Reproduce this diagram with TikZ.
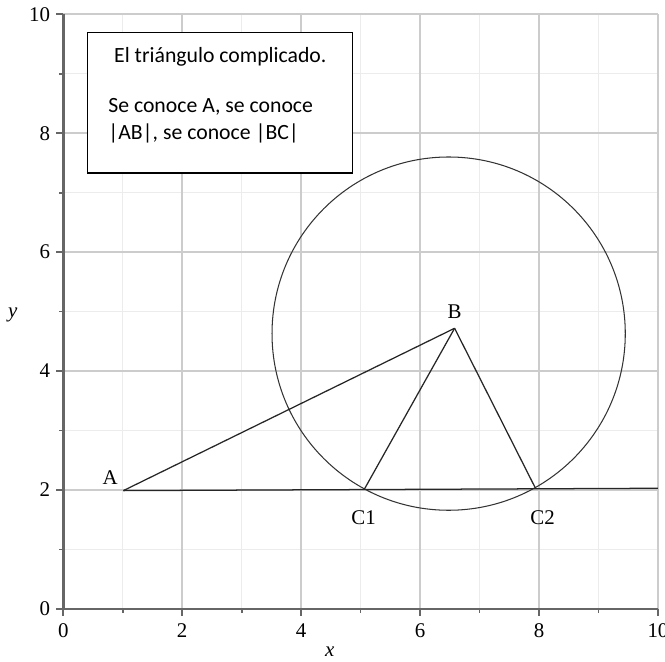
\documentclass[tikz,border=0pt]{standalone}
\usepackage{fontspec}
\setmainfont{Liberation Serif}
\newfontfamily\boxfont{Carlito}
\usetikzlibrary{arrows,arrows.meta}

\begin{document}
\begin{tikzpicture}[
lbl/.style={font=\fontsize{10}{12}\selectfont,inner sep=1pt},
ticklabel/.style={font=\fontsize{10}{12}\selectfont,inner sep=1pt},
boxtext/.style={font=\boxfont\fontsize{10.4}{12}\selectfont,anchor=base west,inner sep=0pt},
infobox/.style={draw=black,line width=0.6pt,fill=white,minimum width=4.45cm,minimum height=2.36cm,inner sep=0pt},
seg/.style={line width=0.6pt,draw=black!85},
axisline/.style={line width=1.2pt,draw=black!60},
majortick/.style={line width=0.8pt,draw=black!60},
majorgrid/.style={line width=0.8pt,draw=gray!40},
minorgrid/.style={line width=0.5pt,draw=gray!15} ]

\useasboundingbox (-1.064,-0.887) rectangle (10.118,10.24);

\draw[minorgrid,step=1] (0,0) grid (10,10);
\draw[majorgrid,step=2] (0,0) grid (10,10);

\foreach \k in {1,3,...,9} {
  \draw[majortick] (\k,0) -- (\k,-0.07);
  \draw[majortick] (0,\k) -- (-0.07,\k);
}
\foreach \k in {0,2,...,10} {
  \draw[majortick] (\k,0) -- (\k,-0.12);
  \draw[majortick] (0,\k) -- (-0.12,\k);
  \node[ticklabel,anchor=north] (xl\k) at (\k,-0.2) {\k};
  \node[ticklabel,anchor=east] (yl\k) at (-0.18,\k) {\k};
}

\draw[axisline] (0,0) -- (10,0);
\draw[axisline] (0,0) -- (0,10);

\node[ticklabel] (xlab) at (4.48,-0.72) {\textit{x}};
\node[ticklabel] (ylab) at (-0.85,4.94) {\textit{y}};

\coordinate (A) at (1.01,1.99);
\coordinate (B) at (6.58,4.72);
\coordinate (C1) at (5.06,2.01);
\coordinate (C2) at (7.94,2.03);
\coordinate (E) at (10,2.03);
\coordinate (O) at (6.48,4.63);

\draw[line width=0.5pt,draw=black!80] (O) circle (2.97);

\draw[seg] (A) -- (E);
\draw[seg] (A) -- (B);
\draw[seg] (B) -- (C1);
\draw[seg] (B) -- (C2);

\node[lbl] (Alab) at (0.79,2.21) {A};
\node[lbl] (Blab) at (6.58,5.0) {B};
\node[lbl] (C1lab) at (5.05,1.54) {C1};
\node[lbl] (C2lab) at (8.06,1.54) {C2};

\node[infobox] (box) at (2.635,8.51) {};
\node[boxtext] (title) at (0.85,9.19) {El triángulo complicado.};
\node[boxtext] (line1) at (0.75,8.35) {Se conoce A, se conoce};
\node[boxtext] (line2) at (0.75,7.9) {|AB|, se conoce |BC|};

\end{tikzpicture}
\end{document}
